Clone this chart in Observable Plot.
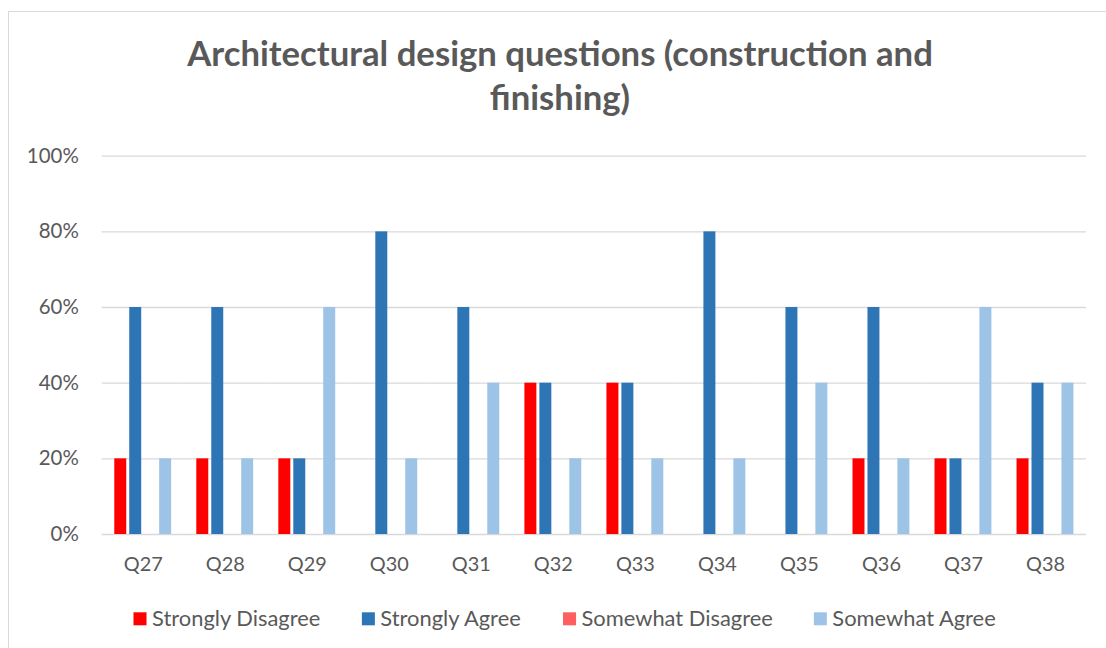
<!DOCTYPE html>
<html><head><meta charset="utf-8">
<script src="https://cdn.jsdelivr.net/npm/d3@7"></script>
<script src="https://cdn.jsdelivr.net/npm/@observablehq/plot@0.6"></script>
<style>
html,body{margin:0;padding:0;background:#fff;overflow:hidden;width:1106px;height:648px;}
#frame{position:absolute;left:8px;top:11px;width:1200px;height:700px;border:1.5px solid #d9d9d9;box-sizing:border-box;}
.abs{position:absolute;left:0;}
</style></head><body>
<div id="frame"></div>
<div id="title" class="abs" style="top:0"></div>
<div id="chart" class="abs" style="top:140px"></div>
<div id="legend" class="abs" style="top:595px"></div>
<script>
const categories = ["Q27","Q28","Q29","Q30","Q31","Q32","Q33","Q34","Q35","Q36","Q37","Q38"];
const seriesNames = ["Strongly Disagree","Strongly Agree","Somewhat Disagree","Somewhat Agree"];
const seriesColors = ["#ff0000","#2e75b6","#ff5f5f","#9dc3e6"];
const stronglyDisagree = [0.2,0.2,0.2,0,0,0.4,0.4,0,0,0.2,0.2,0.2];
const stronglyAgree    = [0.6,0.6,0.2,0.8,0.6,0.4,0.4,0.8,0.6,0.6,0.2,0.4];
const somewhatDisagree = [0,0,0,0,0,0,0,0,0,0,0,0];
const somewhatAgree    = [0.2,0.2,0.6,0.2,0.4,0.2,0.2,0.2,0.4,0.2,0.6,0.4];
const yTicks = [0,0.2,0.4,0.6,0.8,1];
const titleLines = ["Architectural design questions (construction and","finishing)"];

const seriesValues = [stronglyDisagree, stronglyAgree, somewhatDisagree, somewhatAgree];
const rows = [];
categories.forEach((q,i)=>seriesNames.forEach((s,j)=>rows.push({q, series:s, value:seriesValues[j][i]})));

const FONT = "Lato";
const TXT = "#595959";
const ctx = document.createElement("canvas").getContext("2d");
function measure(text, weight, size){ ctx.font = `${weight} ${size}px ${FONT}`; return ctx.measureText(text).width; }
function fit(text, weight, target){ return 100*target/measure(text, weight, 100); }

const titleFs = fit(titleLines[0], "bold", 746);
const yFs = fit("100%", "normal", 52);
const xFs = fit("Q27", "normal", 39);
const legFs = fit("Strongly Disagree", "normal", 169);

// Title
const tsvg = d3.select("#title").append("svg").attr("width",1106).attr("height",130);
const baselines = [66, 110];
titleLines.forEach((t,i)=>tsvg.append("text").attr("x",560).attr("y",baselines[i])
  .attr("text-anchor","middle").attr("font-family",FONT).attr("font-weight","bold")
  .attr("font-size",titleFs).attr("fill",TXT).text(t));

// Chart
const chart = Plot.plot({
  width:1106, height:444,
  marginLeft:101.7, marginRight:20, marginTop:15.7, marginBottom:50,
  style:{fontFamily:FONT, color:TXT, background:"transparent", overflow:"visible"},
  fx:{domain:categories, padding:0, label:null, round:false},
  x:{domain:seriesNames, axis:null, paddingInner:0.2, paddingOuter:0.84, round:false},
  y:{domain:[0,1], label:null},
  color:{domain:seriesNames, range:seriesColors},
  marks:[
    Plot.ruleY(yTicks,{stroke:"#d9d9d9", strokeWidth:1.3}),
    Plot.barY(rows,{fx:"q", x:"series", y:"value", fill:"series"}),
    Plot.axisY(yTicks,{tickFormat:d3.format(".0%"), tickSize:0, tickPadding:23.4, fontSize:yFs, label:null, fill:TXT}),
    Plot.axisFx({anchor:"bottom", tickSize:0, tickPadding:22, fontSize:xFs, label:null, fill:TXT})
  ]
});
document.getElementById("chart").appendChild(chart);

// Legend
const lsvg = d3.select("#legend").append("svg").attr("width",1106).attr("height",50);
let lx = 133.5;
seriesNames.forEach((s,i)=>{
  lsvg.append("rect").attr("x",lx).attr("y",612.3-595).attr("width",13).attr("height",13).attr("fill",seriesColors[i]);
  const tx = lx+18.5;
  lsvg.append("text").attr("x",tx).attr("y",625.5-595).attr("font-family",FONT).attr("font-size",legFs).attr("fill",TXT).text(s);
  lx = tx + measure(s,"normal",legFs) + 41;
});
</script>
</body></html>
